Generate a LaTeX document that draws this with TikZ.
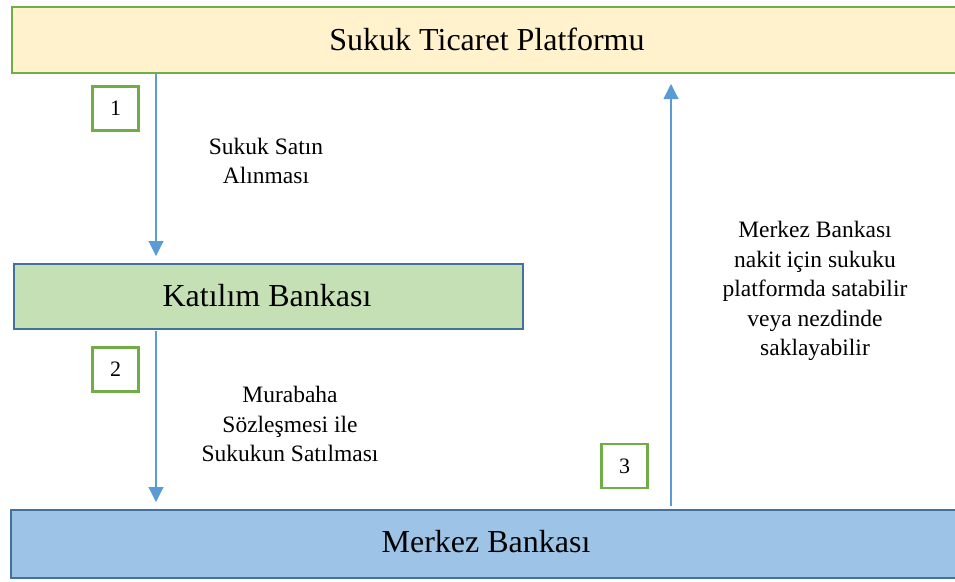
\documentclass[tikz,border=0pt]{standalone}
\usepackage{fontspec}
\setmainfont{Liberation Serif}
\usetikzlibrary{arrows.meta}
\definecolor{platfill}{HTML}{FFF2CC}
\definecolor{greenline}{HTML}{70AD47}
\definecolor{katfill}{HTML}{C5E0B4}
\definecolor{blueline}{HTML}{41719C}
\definecolor{mbfill}{HTML}{9DC3E6}
\definecolor{arrowblue}{HTML}{5B9BD5}
\tikzset{
  bar/.style={draw, line width=2.4pt, inner sep=0pt, anchor=north west},
  title/.style={font=\fontsize{32}{34}\selectfont, inner sep=0pt},
  numbox/.style={draw=greenline, line width=2.2pt, fill=white, minimum width=46pt,
    minimum height=44pt, inner sep=0pt, font=\fontsize{22}{24}\selectfont},
  flow/.style={draw=arrowblue, line width=1.1pt, -{Triangle[length=15pt,width=15pt]}},
  note/.style={align=center, font=\fontsize{23.5}{29.5}\selectfont, inner sep=0pt}
}
\begin{document}
\begin{tikzpicture}[x=1pt,y=-1pt]
\useasboundingbox (0,0) rectangle (955,581);
\begin{scope}
\clip (0,0) rectangle (955,581);
% main bars
\node[bar, draw=greenline, fill=platfill, minimum width=948pt, minimum height=66pt] (plat) at (11,6) {};
\node[title] (platt) at (487,39) {Sukuk Ticaret Platformu};
\node[bar, draw=blueline, fill=katfill, minimum width=509pt, minimum height=65pt] (kat) at (13,263) {};
\node[title] (katt) at (267,296) {Katılım Bankası};
\node[bar, draw=blueline, fill=mbfill, minimum width=950pt, minimum height=68pt] (mb) at (10,509) {};
\node[title] (mbt) at (486,542) {Merkez Bankası};
\end{scope}
% flow arrows
\coordinate (a1s) at (156,73);
\coordinate (a1e) at (156,256);
\coordinate (a2s) at (156,331);
\coordinate (a2e) at (156,502);
\coordinate (a3s) at (671,506);
\coordinate (a3e) at (671,84);
\draw[flow] (a1s) -- (a1e);
\draw[flow] (a2s) -- (a2e);
\draw[flow] (a3s) -- (a3e);
% step numbers
\node[numbox] (n1) at (115.5,108.5) {1};
\node[numbox] (n2) at (115.5,369.5) {2};
\node[numbox] (n3) at (624.5,466) {3};
% descriptions
\node[note] (l1) at (266,161) {Sukuk Satın\\Alınması};
\node[note] (l2) at (290,424) {Murabaha\\Sözleşmesi ile\\Sukukun Satılması};
\node[note] (l3) at (815,291) {Merkez Bankası\\nakit için sukuku\\platformda satabilir\\veya nezdinde\\saklayabilir};
\end{tikzpicture}
\end{document}
